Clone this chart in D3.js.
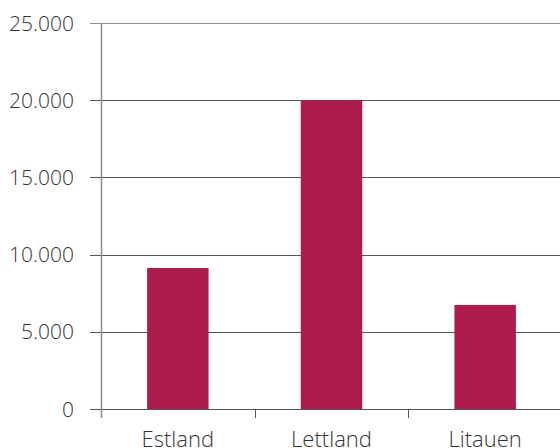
<!DOCTYPE html>
<html>
<head>
<meta charset="utf-8">
<script src="https://cdn.jsdelivr.net/npm/d3@7"></script>
<style>
  body { margin: 0; background: #fff; }
  svg text { font-family: "Open Sans", sans-serif; font-weight: 300; fill: #333; }
</style>
</head>
<body>
<svg width="560" height="448"></svg>
<script>
  var categories = ["Estland", "Lettland", "Litauen"];
  var values = [9130, 20000, 6740];
  var yTicks = [0, 5000, 10000, 15000, 20000, 25000];

  (function (d3) {
    "use strict";

    var svg = d3.select("svg");

    var plotLeft = 101;
    var plotRight = 562;
    var plotTop = 23;
    var plotBottom = 409;

    var x = d3.scaleBand()
      .domain(categories)
      .range([plotLeft, plotRight])
      .paddingInner(0.6)
      .paddingOuter(0.3);

    var y = d3.scaleLinear()
      .domain([0, 25000])
      .range([plotBottom, plotTop]);

    var fmt = function (d) {
      return d3.format(",")(d).replace(/,/g, ".");
    };

    // gridlines
    svg.append("g")
      .selectAll("line")
      .data(yTicks)
      .join("line")
      .attr("x1", 90)
      .attr("x2", 560)
      .attr("y1", function (d) { return Math.round(y(d)) + 0.5; })
      .attr("y2", function (d) { return Math.round(y(d)) + 0.5; })
      .attr("stroke", function (d) { return d === 25000 ? "#8c8c8c" : "#555"; })
      .attr("stroke-width", 1.2);

    // y tick labels
    svg.append("g")
      .selectAll("text")
      .data(yTicks)
      .join("text")
      .attr("x", 74)
      .attr("y", function (d) { return y(d); })
      .attr("dy", "0.36em")
      .attr("text-anchor", "end")
      .attr("font-size", 21)
      .text(fmt);

    // bars
    svg.append("g")
      .selectAll("rect")
      .data(values)
      .join("rect")
      .attr("x", function (d, i) { return x(categories[i]); })
      .attr("width", x.bandwidth())
      .attr("y", function (d) { return y(d); })
      .attr("height", function (d) { return plotBottom - y(d); })
      .attr("fill", "#ad1c4a");

    // y axis line
    svg.append("line")
      .attr("x1", plotLeft + 0.5)
      .attr("x2", plotLeft + 0.5)
      .attr("y1", plotTop)
      .attr("y2", 418)
      .attr("stroke", "#8c8c8c")
      .attr("stroke-width", 1.5);

    // category separators
    svg.append("g")
      .selectAll("line")
      .data([1, 2, 3])
      .join("line")
      .attr("x1", function (d) { return Math.round(plotLeft + d * (plotRight - plotLeft) / 3) + 0.5; })
      .attr("x2", function (d) { return Math.round(plotLeft + d * (plotRight - plotLeft) / 3) + 0.5; })
      .attr("y1", plotBottom)
      .attr("y2", 418)
      .attr("stroke", "#555")
      .attr("stroke-width", 1);

    // category labels (cut off by the bottom edge, as in the original)
    svg.append("g")
      .selectAll("text")
      .data(categories)
      .join("text")
      .attr("x", function (d) { return x(d) + x.bandwidth() / 2; })
      .attr("y", 447)
      .attr("text-anchor", "middle")
      .attr("font-size", 22)
      .text(function (d) { return d; });
  })(d3);
</script>
</body>
</html>
